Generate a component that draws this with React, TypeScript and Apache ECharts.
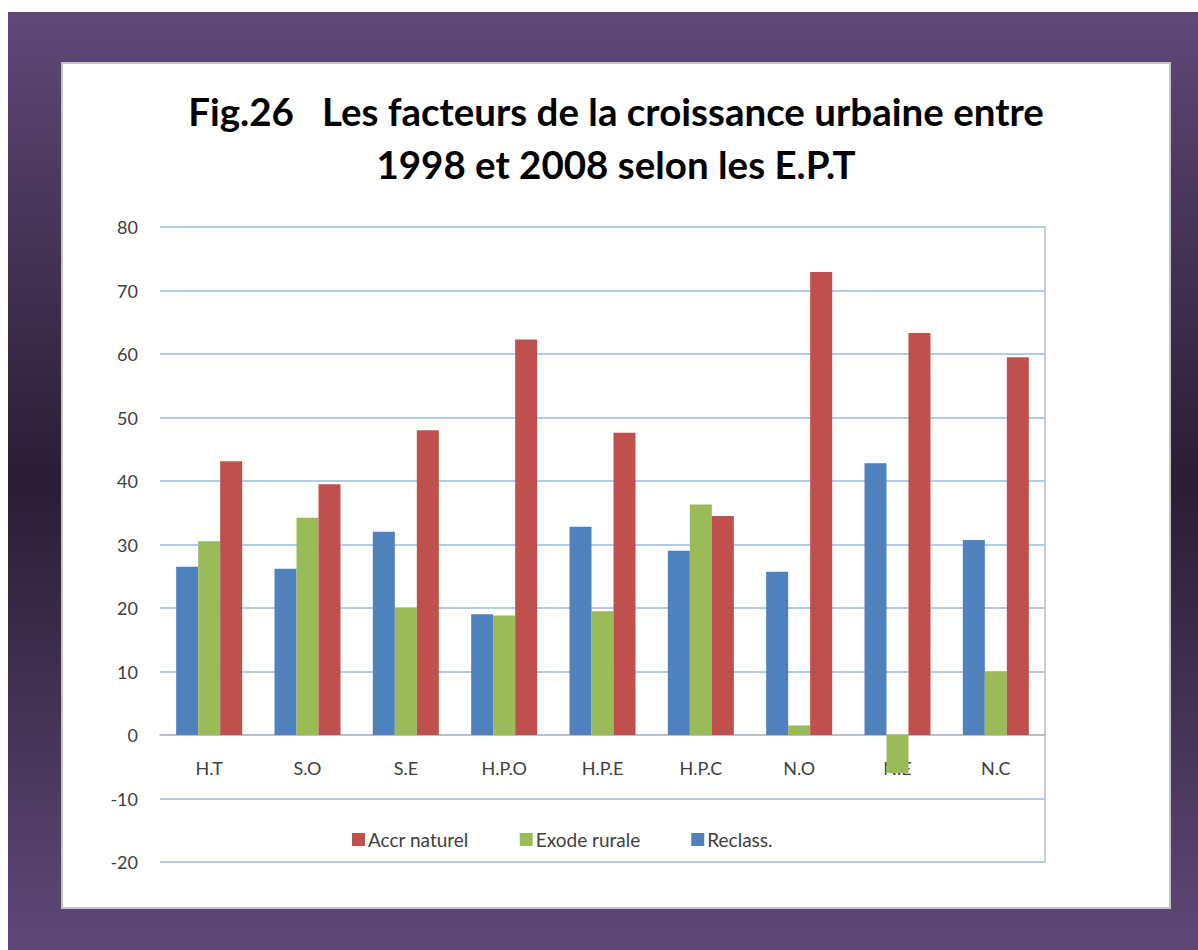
import React, { useEffect, useRef } from "react";
import * as echarts from "echarts";

const categories = ["H.T", "S.O", "S.E", "H.P.O", "H.P.E", "H.P.C", "N.O", "N.E", "N.C"];
const reclass = [26.5, 26.2, 32.0, 19.0, 32.8, 29.0, 25.7, 42.8, 30.7];
const exodeRurale = [30.5, 34.2, 20.0, 18.8, 19.5, 36.3, 1.5, -6.0, 10.0];
const accrNaturel = [43.1, 39.5, 48.0, 62.3, 47.6, 34.5, 72.9, 63.3, 59.5];
const legendOrder = ["Accr naturel", "Exode rurale", "Reclass."];
const titleLines = ["Fig.26\u00a0\u00a0\u00a0Les facteurs de la croissance urbaine entre", "1998 et 2008 selon les E.P.T"];

export default function App() {
  const ref = useRef<HTMLDivElement>(null);
  useEffect(() => {
    document.body.style.margin = "0";
    const chart = echarts.init(ref.current!, null, { renderer: "svg" });
    const font = "Lato, 'Open Sans', sans-serif";
    chart.setOption({
      animation: false,
      backgroundColor: "#ffffff",
      graphic: [
        {
          type: "rect",
          z: -10,
          silent: true,
          shape: { x: 8, y: 12, width: 1190, height: 938 },
          style: {
            fill: new echarts.graphic.LinearGradient(0, 0, 0, 1, [
              { offset: 0, color: "#604878" },
              { offset: 0.5, color: "#2a1d33" },
              { offset: 1, color: "#5f4878" },
            ]),
          },
        },
        {
          type: "rect",
          z: -9,
          silent: true,
          shape: { x: 62, y: 63, width: 1108, height: 845 },
          style: { fill: "#ffffff", stroke: "#c4c4c4", lineWidth: 2 },
        },
      ],
      title: {
        text: titleLines.join("\n"),
        left: 611,
        textAlign: "center",
        top: 79,
        textStyle: {
          fontFamily: font,
          fontWeight: "bold",
          fontSize: 38.5,
          color: "#000000",
          lineHeight: 53,
        },
      },
      legend: {
        data: legendOrder,
        left: 347,
        top: 825,
        itemWidth: 13,
        itemHeight: 13,
        itemGap: 51,
        icon: "rect",
        textStyle: { fontFamily: font, fontSize: 19, color: "#404040", padding: [0, 0, 0, -2] },
      },
      grid: { left: 160, right: 153, top: 227, bottom: 88, containLabel: false },
      xAxis: {
        type: "category",
        data: categories,
        offset: -127,
        axisLine: { onZero: false, lineStyle: { color: "#bdbdbd", width: 1.5 } },
        axisTick: { show: false },
        axisLabel: { fontFamily: font, fontSize: 18, color: "#404040", margin: 24 },
        z: 1,
      },
      yAxis: [
        {
          type: "value",
          min: -20,
          max: 80,
          interval: 10,
          axisLine: { show: false },
          axisTick: { show: false },
          axisLabel: { fontFamily: font, fontSize: 18, color: "#404040", margin: 22 },
          splitLine: { lineStyle: { color: "#9db8dd", width: 1.5 } },
        },
        {
          type: "value",
          position: "right",
          min: -20,
          max: 80,
          interval: 10,
          axisLine: { show: true, lineStyle: { color: "#bdbdbd", width: 1.5 } },
          axisTick: { show: false },
          axisLabel: { show: false },
          splitLine: { show: false },
        },
      ],
      series: [
        { name: "Reclass.", type: "bar", data: reclass, barWidth: 22, barGap: "0%", itemStyle: { color: "#4f81bd" }, z: 3 },
        { name: "Exode rurale", type: "bar", data: exodeRurale, barWidth: 22, barGap: "0%", itemStyle: { color: "#9bbb59" }, z: 3 },
        { name: "Accr naturel", type: "bar", data: accrNaturel, barWidth: 22, barGap: "0%", itemStyle: { color: "#c0504d" }, z: 3 },
      ],
    });
    return () => chart.dispose();
  }, []);
  return <div ref={ref} style={{ width: 1198, height: 950 }} />;
}
